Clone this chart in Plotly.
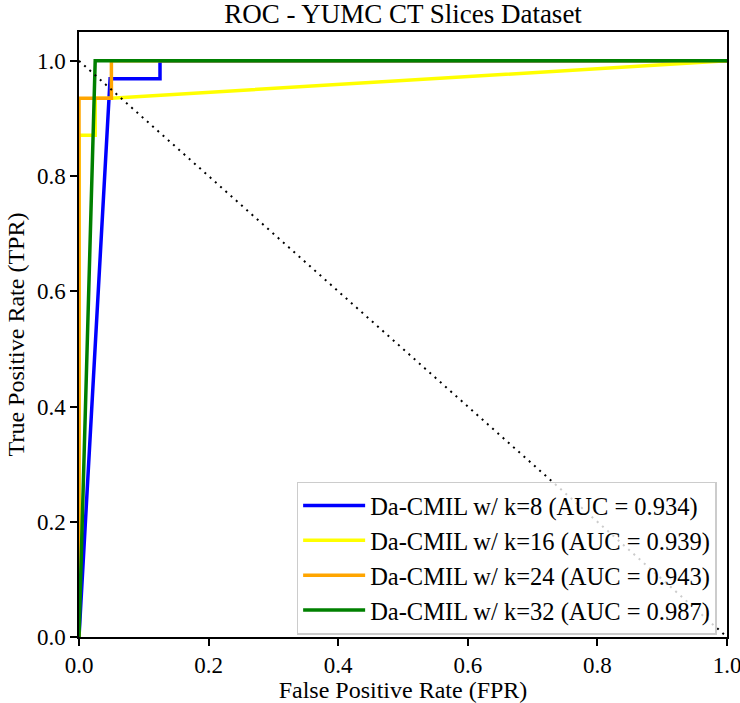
import plotly.graph_objects as go

# ROC curve data
labels = [
    "Da-CMIL w/ k=8 (AUC = 0.934)",
    "Da-CMIL w/ k=16 (AUC = 0.939)",
    "Da-CMIL w/ k=24 (AUC = 0.943)",
    "Da-CMIL w/ k=32 (AUC = 0.987)",
]
colors = ["#0000ff", "#ffff00", "#ffa500", "#008000"]

fpr_k8 = [0.0, 0.048, 0.125, 0.125, 1.0]
tpr_k8 = [0.0, 0.969, 0.969, 1.0, 1.0]

fpr_k16 = [0.0, 0.0, 0.025, 0.025, 0.05, 1.0]
tpr_k16 = [0.0, 0.871, 0.871, 0.935, 0.935, 1.0]

fpr_k24 = [0.0, 0.0, 0.05, 0.05, 1.0]
tpr_k24 = [0.0, 0.935, 0.935, 1.0, 1.0]

fpr_k32 = [0.0, 0.025, 1.0]
tpr_k32 = [0.0, 1.0, 1.0]

diag_x = [0.0, 1.0]
diag_y = [1.0, 0.0]

xticks = [0.0, 0.2, 0.4, 0.6, 0.8, 1.0]
yticks = [0.0, 0.2, 0.4, 0.6, 0.8, 1.0]

FONT = "Liberation Serif"
FS_TICK = 23
FS_LABEL = 24
FS_LEG = 24.5
FS_TITLE = 27

fig = go.Figure()
series = [(fpr_k8, tpr_k8), (fpr_k16, tpr_k16), (fpr_k24, tpr_k24), (fpr_k32, tpr_k32)]
for (xs, ys), lab, col in zip(series, labels, colors):
    fig.add_trace(go.Scatter(x=xs, y=ys, mode="lines", name=lab,
                             line=dict(color=col, width=3.5)))

fig.add_trace(go.Scatter(x=diag_x, y=diag_y, mode="lines", showlegend=False,
                         line=dict(color="black", width=2, dash="2px,5px")))

axis_common = dict(
    showgrid=False, zeroline=False, showline=True, linecolor="black", linewidth=1.5,
    mirror=True, ticks="outside", ticklen=7, tickwidth=1.5, tickcolor="black",
    tickfont=dict(family=FONT, size=FS_TICK, color="black"), automargin=False,
    ticklabeloverflow="allow",
)

fig.update_layout(
    width=740, height=703,
    margin=dict(l=79, r=13, t=32, b=66),
    paper_bgcolor="white", plot_bgcolor="white",
    font=dict(family=FONT, size=FS_TICK, color="black"),
    title=dict(text="ROC - YUMC CT Slices Dataset", x=0.5, xanchor="center",
               xref="paper", y=0.981, yanchor="middle", automargin=False,
               font=dict(family=FONT, size=FS_TITLE, color="black")),
    xaxis=dict(range=[0, 1], tickvals=xticks, ticktext=[f"{v:.1f}" for v in xticks],
               title=dict(text="False Positive Rate (FPR)", standoff=8,
                          font=dict(family=FONT, size=FS_LABEL)), **axis_common),
    yaxis=dict(range=[0, 1.05], tickvals=yticks, ticktext=[f"{v:.1f}" for v in yticks],
               title=dict(text="True Positive Rate (TPR)", standoff=6,
                          font=dict(family=FONT, size=FS_LABEL)), **axis_common),
    legend=dict(x=0.984, xanchor="right", y=0.004, yanchor="bottom",
                itemwidth=62,
                bgcolor="rgba(255,255,255,0.8)", bordercolor="#cccccc", borderwidth=1.5,
                font=dict(family=FONT, size=FS_LEG, color="black")),
)

fig.write_html("out.html", config={"displayModeBar": False},
               post_script="document.body.style.margin='0';document.body.style.overflow='hidden';")
